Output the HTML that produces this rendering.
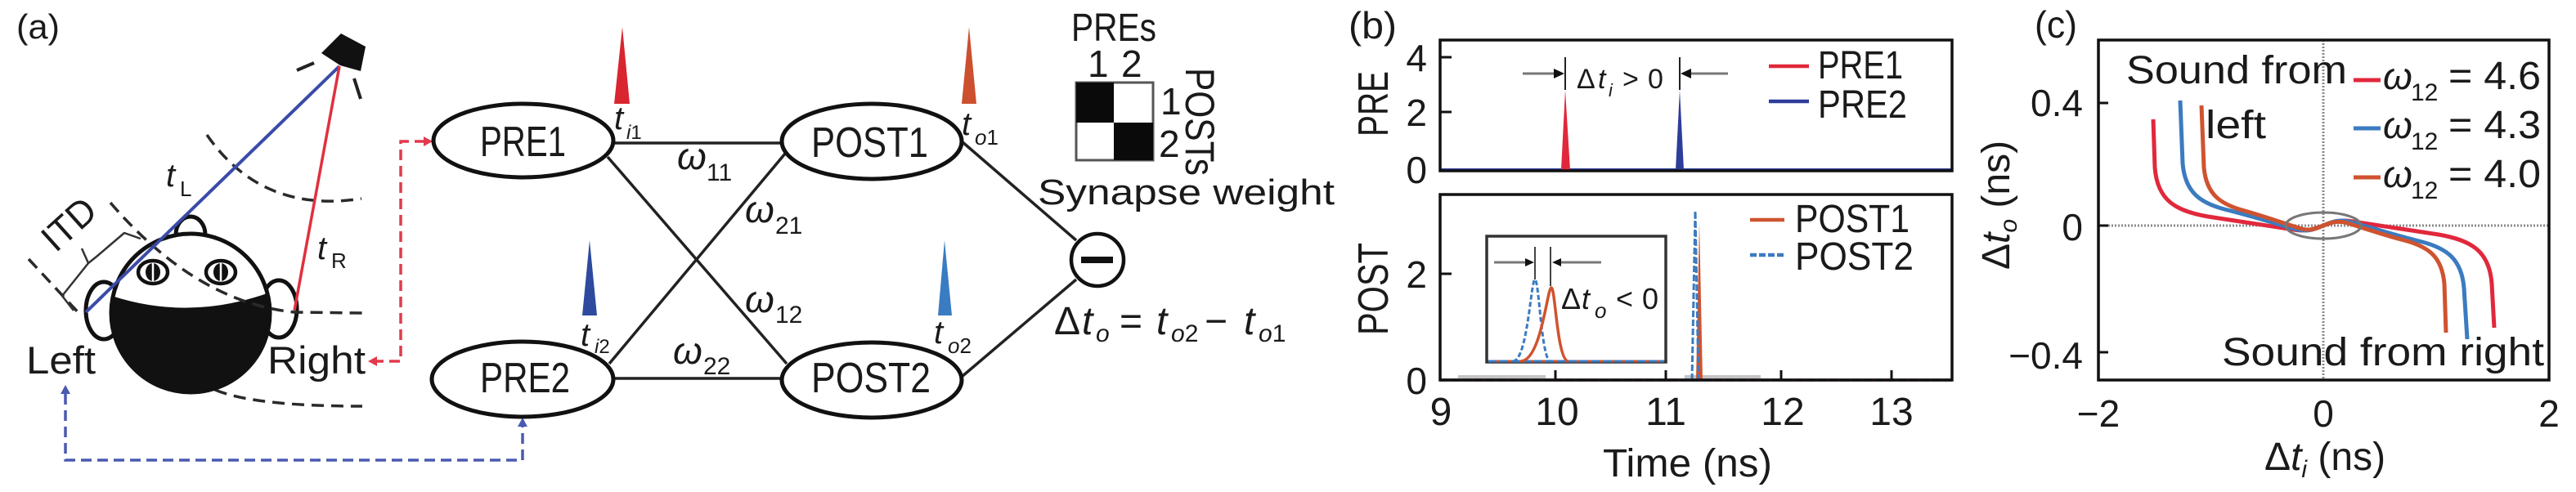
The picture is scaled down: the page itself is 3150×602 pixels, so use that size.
<!DOCTYPE html>
<html><head><meta charset="utf-8">
<style>
html,body{margin:0;padding:0;background:#fff;}
svg{display:block;}
text{font-family:"Liberation Sans",sans-serif;fill:#1a1a1a;}
.i{font-style:italic;}
</style></head><body>
<svg width="3150" height="602" viewBox="0 0 3150 602" xmlns="http://www.w3.org/2000/svg">
<defs>
<clipPath id="hc"><circle cx="233" cy="383" r="96"/></clipPath>
</defs>
<rect width="3150" height="602" fill="#fff"/>

<!-- ============ PANEL (a) ============ -->
<text x="20" y="47" font-size="42" textLength="53" lengthAdjust="spacingAndGlyphs">(a)</text>

<!-- sound wave arcs -->
<g fill="none" stroke="#2a2a2a" stroke-width="3.5" stroke-dasharray="15 9">
  <path d="M253,165 Q320,262 442,243"/>
  <path d="M35,317 L100,387"/>
  <path d="M263,477 Q310,497 443,497"/>
</g>
<!-- speaker -->
<polygon points="417,41 447,57 441,87 416,80 393,65" fill="#111"/>
<line x1="363" y1="86" x2="384" y2="77" stroke="#222" stroke-width="4"/>
<line x1="433" y1="96" x2="441" y2="121" stroke="#222" stroke-width="4"/>

<!-- brace -->
<path d="M90,380 L76,362 L108,322 L100,304 M108,322 L118,314 L152,285 L172,292" fill="none" stroke="#333" stroke-width="2.5" stroke-linejoin="round"/>
<text transform="translate(68,310) rotate(-42)" font-size="46" textLength="72" lengthAdjust="spacingAndGlyphs">ITD</text>

<!-- ears, nose -->
<ellipse cx="127" cy="380" rx="22" ry="35" fill="#fff" stroke="#111" stroke-width="5"/>
<ellipse cx="341" cy="378" rx="22" ry="35" fill="#fff" stroke="#111" stroke-width="5"/>
<path d="M215,287 A18,22 0 0 1 251,287 Z" fill="#fff" stroke="#111" stroke-width="5"/>
<!-- head -->
<circle cx="233" cy="383" r="96" fill="#fff"/>
<path d="M125,358 Q233,398 345,352 L345,490 L125,490 Z" fill="#111" clip-path="url(#hc)"/>
<circle cx="233" cy="383" r="97" fill="none" stroke="#111" stroke-width="5"/>
<!-- eyes -->
<ellipse cx="187" cy="333" rx="18" ry="14" fill="#fff" stroke="#111" stroke-width="4.5"/>
<ellipse cx="187" cy="333" rx="9" ry="11" fill="#111"/>
<line x1="187" y1="322" x2="187" y2="344" stroke="#fff" stroke-width="2.5"/>
<ellipse cx="270" cy="333" rx="18" ry="14" fill="#fff" stroke="#111" stroke-width="4.5"/>
<ellipse cx="270" cy="333" rx="9" ry="11" fill="#111"/>
<line x1="270" y1="322" x2="270" y2="344" stroke="#fff" stroke-width="2.5"/>
<!-- arc 2 over face -->
<path d="M135,248 Q240,370 360,382 L443,383" fill="none" stroke="#2a2a2a" stroke-width="3.5" stroke-dasharray="15 9"/>
<!-- sound paths -->
<line x1="415" y1="81" x2="105" y2="382" stroke="#3a4ba8" stroke-width="4"/>
<line x1="415" y1="81" x2="360" y2="380" stroke="#e0303e" stroke-width="3.5"/>

<text class="i" x="203" y="228" font-size="40">t</text>
<text x="220" y="240" font-size="26">L</text>
<text class="i" x="388" y="317" font-size="40">t</text>
<text x="405" y="328" font-size="26">R</text>

<text x="32" y="457" font-size="47" textLength="85" lengthAdjust="spacingAndGlyphs">Left</text>
<text x="327" y="457" font-size="47" textLength="120" lengthAdjust="spacingAndGlyphs">Right</text>

<!-- dashed connectors -->
<path d="M520,173 L490,173 L490,442 L460,442" fill="none" stroke="#e23a4c" stroke-width="3.5" stroke-dasharray="13 7"/>
<polygon points="529,173 518,167 518,179" fill="#e23a4c"/>
<polygon points="450,442 461,436 461,448" fill="#e23a4c"/>
<path d="M80,482 L80,563 L639,563 L639,522" fill="none" stroke="#4a5ab0" stroke-width="3.5" stroke-dasharray="13 7"/>
<polygon points="80,471 74,482 86,482" fill="#4a5ab0"/>
<polygon points="639,511 633,522 645,522" fill="#4a5ab0"/>

<!-- network lines -->
<g stroke="#222" stroke-width="3.5">
  <line x1="750" y1="175" x2="956" y2="175"/>
  <line x1="750" y1="463" x2="957" y2="463"/>
  <line x1="743" y1="192" x2="962" y2="445"/>
  <line x1="745" y1="445" x2="960" y2="188"/>
  <line x1="1176" y1="173" x2="1316" y2="294"/>
  <line x1="1176" y1="461" x2="1316" y2="342"/>
</g>
<!-- nodes -->
<g fill="#fff" stroke="#111" stroke-width="5">
  <ellipse cx="640" cy="172" rx="110" ry="45"/>
  <ellipse cx="639" cy="464" rx="111" ry="46"/>
  <ellipse cx="1066" cy="173" rx="110" ry="46"/>
  <ellipse cx="1066" cy="465" rx="110" ry="46"/>
</g>
<text x="587" y="191" font-size="52" textLength="105" lengthAdjust="spacingAndGlyphs">PRE1</text>
<text x="587" y="480" font-size="52" textLength="110" lengthAdjust="spacingAndGlyphs">PRE2</text>
<text x="992" y="192" font-size="52" textLength="143" lengthAdjust="spacingAndGlyphs">POST1</text>
<text x="992" y="480" font-size="52" textLength="146" lengthAdjust="spacingAndGlyphs">POST2</text>

<!-- spikes -->
<polygon points="761,33 751,127 770,127" fill="#d9252f"/>
<polygon points="721,294 712,386 730,386" fill="#2e4a9e"/>
<polygon points="1185,33 1176,127 1194,127" fill="#cc4f2e"/>
<polygon points="1155,294 1147,386 1164,386" fill="#3a7cc2"/>

<text class="i" x="751" y="158" font-size="40">t</text>
<text x="766" y="170" font-size="24"><tspan class="i">i</tspan>1</text>
<text class="i" x="710" y="423" font-size="40">t</text>
<text x="727" y="432" font-size="24"><tspan class="i">i</tspan>2</text>
<text class="i" x="1176" y="165" font-size="40">t</text>
<text x="1192" y="177" font-size="26"><tspan class="i">o</tspan>1</text>
<text class="i" x="1142" y="420" font-size="40">t</text>
<text x="1159" y="432" font-size="26"><tspan class="i">o</tspan>2</text>

<!-- weights -->
<text class="i" x="828" y="207" font-size="46">ω</text><text x="864" y="221" font-size="30">11</text>
<text class="i" x="911" y="272" font-size="46">ω</text><text x="948" y="286" font-size="30">21</text>
<text class="i" x="911" y="382" font-size="46">ω</text><text x="948" y="395" font-size="30">12</text>
<text class="i" x="823" y="445" font-size="46">ω</text><text x="860" y="458" font-size="30">22</text>

<!-- minus node -->
<circle cx="1342" cy="318" r="32" fill="#fff" stroke="#111" stroke-width="4.5"/>
<rect x="1322" y="314" width="39" height="8" fill="#111"/>

<!-- formula -->
<text x="1289" y="409" font-size="48">Δ</text>
<text class="i" x="1323" y="409" font-size="48">t</text>
<text class="i" x="1340" y="418" font-size="30">o</text>
<text x="1369" y="409" font-size="48">=</text>
<text class="i" x="1414" y="409" font-size="48">t</text>
<text x="1432" y="418" font-size="30"><tspan class="i">o</tspan>2</text>
<text x="1473" y="409" font-size="48">−</text>
<text class="i" x="1521" y="409" font-size="48">t</text>
<text x="1539" y="418" font-size="30"><tspan class="i">o</tspan>1</text>

<!-- weight matrix -->
<text x="1310" y="50" font-size="48" textLength="104" lengthAdjust="spacingAndGlyphs">PREs</text>
<text x="1330" y="94" font-size="46">1</text>
<text x="1371" y="94" font-size="46">2</text>
<rect x="1316" y="101" width="94" height="95" fill="#fff" stroke="#555" stroke-width="3"/>
<rect x="1316" y="101" width="46" height="49" fill="#0a0a0a"/>
<rect x="1362" y="150" width="48" height="46" fill="#0a0a0a"/>
<text x="1419" y="140" font-size="46">1</text>
<text x="1417" y="192" font-size="46">2</text>
<text transform="translate(1450,83) rotate(90)" font-size="50" textLength="132" lengthAdjust="spacingAndGlyphs">POSTs</text>
<text x="1269" y="250" font-size="44" textLength="363" lengthAdjust="spacingAndGlyphs">Synapse weight</text>

<!-- ============ PANEL (b) ============ -->
<text x="1649" y="47" font-size="46" textLength="59" lengthAdjust="spacingAndGlyphs">(b)</text>

<!-- top plot -->
<text transform="translate(1697,167) rotate(-90)" font-size="52" textLength="80" lengthAdjust="spacingAndGlyphs">PRE</text>
<g font-size="46" text-anchor="end">
  <text x="1745" y="87">4</text>
  <text x="1745" y="154">2</text>
  <text x="1745" y="224">0</text>
</g>
<line x1="1761" y1="208" x2="2387" y2="208" stroke="#2e3d9a" stroke-width="4"/>
<polygon points="1909,208 1914,110 1920,208" fill="#e0283a"/>
<polygon points="2049,208 2054,110 2059,208" fill="#2e3d9a"/>
<line x1="1914" y1="70" x2="1914" y2="110" stroke="#222" stroke-width="2"/>
<line x1="2054" y1="70" x2="2054" y2="110" stroke="#222" stroke-width="2"/>
<line x1="1862" y1="90" x2="1904" y2="90" stroke="#777" stroke-width="3"/>
<polygon points="1913,90 1900,84 1900,96" fill="#111"/>
<line x1="2113" y1="90" x2="2064" y2="90" stroke="#777" stroke-width="3"/>
<polygon points="2055,90 2068,84 2068,96" fill="#111"/>
<text x="1928" y="108" font-size="34">Δ</text>
<text class="i" x="1954" y="108" font-size="34">t</text>
<text class="i" x="1967" y="118" font-size="22">i</text>
<text x="1984" y="108" font-size="34">&gt;</text>
<text x="2015" y="108" font-size="34">0</text>
<line x1="2163" y1="81" x2="2212" y2="81" stroke="#e0283a" stroke-width="4.5"/>
<text x="2223" y="96" font-size="48" textLength="104" lengthAdjust="spacingAndGlyphs">PRE1</text>
<line x1="2163" y1="124" x2="2212" y2="124" stroke="#2e3d9a" stroke-width="4.5"/>
<text x="2223" y="144" font-size="48" textLength="109" lengthAdjust="spacingAndGlyphs">PRE2</text>
<line x1="1761" y1="70" x2="1775" y2="70" stroke="#111" stroke-width="3"/>
<line x1="1761" y1="137" x2="1775" y2="137" stroke="#111" stroke-width="3"/>
<rect x="1761" y="49" width="626" height="160" fill="none" stroke="#111" stroke-width="3.5"/>

<!-- bottom plot -->
<text transform="translate(1697,410) rotate(-90)" font-size="52" textLength="113" lengthAdjust="spacingAndGlyphs">POST</text>
<g font-size="46" text-anchor="end">
  <text x="1745" y="352">2</text>
  <text x="1745" y="482">0</text>
</g>
<line x1="1783" y1="461" x2="1890" y2="461" stroke="#c4c4c4" stroke-width="4"/>
<line x1="2060" y1="461" x2="2153" y2="461" stroke="#c4c4c4" stroke-width="4"/>
<line x1="1761" y1="465" x2="2387" y2="465" stroke="#cf532f" stroke-width="3.5"/>
<line x1="1761" y1="465" x2="2387" y2="465" stroke="#3b7bc0" stroke-width="3.5" stroke-dasharray="10 4"/>
<polygon points="2074,465 2078,272 2082,465" fill="#cf532f"/>
<polyline points="2069,465 2073,258 2077,465" fill="none" stroke="#3b7bc0" stroke-width="3" stroke-dasharray="8 3"/>
<line x1="1902" y1="453" x2="1902" y2="465" stroke="#111" stroke-width="3"/>
<line x1="2037" y1="453" x2="2037" y2="465" stroke="#111" stroke-width="3"/>
<line x1="2178" y1="453" x2="2178" y2="465" stroke="#111" stroke-width="3"/>
<line x1="2313" y1="453" x2="2313" y2="465" stroke="#111" stroke-width="3"/>
<line x1="1761" y1="335" x2="1775" y2="335" stroke="#111" stroke-width="3"/>

<!-- inset -->
<rect x="1818" y="289" width="219" height="154" fill="#fff" stroke="#333" stroke-width="3.5"/>
<line x1="1820" y1="442" x2="2035" y2="442" stroke="#cf532f" stroke-width="3"/>
<line x1="1820" y1="442" x2="2035" y2="442" stroke="#3b7bc0" stroke-width="3" stroke-dasharray="10 4"/>
<path d="M1850,442 C1868,442 1872,342 1877,342 C1882,342 1885,442 1896,442" fill="none" stroke="#3b7bc0" stroke-width="3" stroke-dasharray="6 3"/>
<path d="M1860,442 C1885,440 1892,352 1897,352 C1902,352 1904,442 1918,442" fill="none" stroke="#cf532f" stroke-width="3.5"/>
<line x1="1877" y1="302" x2="1877" y2="342" stroke="#444" stroke-width="2"/>
<line x1="1896" y1="302" x2="1896" y2="350" stroke="#444" stroke-width="2"/>
<line x1="1827" y1="321" x2="1868" y2="321" stroke="#777" stroke-width="3"/>
<polygon points="1876,321 1865,316 1865,326" fill="#111"/>
<line x1="1958" y1="321" x2="1906" y2="321" stroke="#777" stroke-width="3"/>
<polygon points="1898,321 1909,316 1909,326" fill="#111"/>
<text x="1909" y="378" font-size="36">Δ</text>
<text class="i" x="1934" y="378" font-size="36">t</text>
<text class="i" x="1950" y="389" font-size="26">o</text>
<text x="1976" y="378" font-size="36">&lt;</text>
<text x="2008" y="378" font-size="36">0</text>

<line x1="2140" y1="269" x2="2182" y2="269" stroke="#cf532f" stroke-width="4.5"/>
<text x="2195" y="284" font-size="48" textLength="140" lengthAdjust="spacingAndGlyphs">POST1</text>
<line x1="2140" y1="312" x2="2182" y2="312" stroke="#3b7bc0" stroke-width="4.5" stroke-dasharray="8 3"/>
<text x="2195" y="330" font-size="48" textLength="145" lengthAdjust="spacingAndGlyphs">POST2</text>
<rect x="1761" y="238" width="626" height="227" fill="none" stroke="#111" stroke-width="3.5"/>

<g font-size="48" text-anchor="middle">
  <text x="1762" y="520">9</text>
  <text x="1904" y="520">10</text>
  <text x="2037" y="520">11</text>
  <text x="2180" y="520">12</text>
  <text x="2313" y="520">13</text>
</g>
<text x="1960" y="583" font-size="48" textLength="207" lengthAdjust="spacingAndGlyphs">Time (ns)</text>

<!-- ============ PANEL (c) ============ -->
<text x="2488" y="46" font-size="46" textLength="52" lengthAdjust="spacingAndGlyphs">(c)</text>
<line x1="2566" y1="276" x2="3117" y2="276" stroke="#8a8a8a" stroke-width="3" stroke-dasharray="2 2"/>
<line x1="2841" y1="49" x2="2841" y2="465" stroke="#8a8a8a" stroke-width="3" stroke-dasharray="2 2"/>

<g fill="none" stroke-width="5" stroke-linecap="butt">
  <path stroke="#e1283c" d="M2633,146 L2635,205 C2638,245 2660,258 2700,265 C2740,271 2780,277 2805,281 C2820,284 2830,280 2841,276 C2852,272 2862,268 2877,271 C2902,275 2942,281 2982,287 C3022,294 3044,307 3047,347 L3050,401"/>
  <path stroke="#3b7bc0" d="M2666,123 L2669,200 C2672,235 2690,248 2720,256 C2760,266 2790,276 2810,281 C2822,284 2832,280 2841,276 C2850,272 2860,268 2872,271 C2892,276 2922,286 2962,296 C2992,304 3010,317 3013,352 L3017,415"/>
  <path stroke="#cf532f" d="M2692,129 L2695,205 C2698,238 2715,250 2745,258 C2780,268 2800,276 2815,280 C2826,283 2834,279 2841,276 C2848,273 2856,270 2867,272 C2882,276 2902,284 2940,294 C2970,302 2986,314 2989,347 L2991,407"/>
</g>
<ellipse cx="2841" cy="276" rx="46" ry="16" fill="none" stroke="#777" stroke-width="3"/>

<line x1="2566" y1="126" x2="2578" y2="126" stroke="#111" stroke-width="3"/>
<line x1="2566" y1="276" x2="2578" y2="276" stroke="#111" stroke-width="3"/>
<line x1="2566" y1="431" x2="2578" y2="431" stroke="#111" stroke-width="3"/>
<rect x="2566" y="49" width="551" height="416" fill="none" stroke="#111" stroke-width="3.5"/>

<text x="2600" y="102" font-size="48" textLength="270" lengthAdjust="spacingAndGlyphs">Sound from</text>
<text x="2697" y="169" font-size="48" textLength="74" lengthAdjust="spacingAndGlyphs">left</text>
<text x="2717" y="447" font-size="48" textLength="394" lengthAdjust="spacingAndGlyphs">Sound from right</text>

<!-- legend (c) -->
<line x1="2878" y1="98" x2="2911" y2="98" stroke="#e1283c" stroke-width="5"/>
<text class="i" x="2914" y="109" font-size="46">ω</text>
<text x="2948" y="123" font-size="30">12</text>
<text x="2994" y="109" font-size="48" textLength="113" lengthAdjust="spacingAndGlyphs">= 4.6</text>
<line x1="2878" y1="157" x2="2911" y2="157" stroke="#3b7bc0" stroke-width="5"/>
<text class="i" x="2914" y="169" font-size="46">ω</text>
<text x="2948" y="183" font-size="30">12</text>
<text x="2994" y="169" font-size="48" textLength="113" lengthAdjust="spacingAndGlyphs">= 4.3</text>
<line x1="2878" y1="217" x2="2911" y2="217" stroke="#cf532f" stroke-width="5"/>
<text class="i" x="2914" y="229" font-size="46">ω</text>
<text x="2948" y="243" font-size="30">12</text>
<text x="2994" y="229" font-size="48" textLength="113" lengthAdjust="spacingAndGlyphs">= 4.0</text>

<!-- axes labels (c) -->
<g font-size="46" text-anchor="end">
  <text x="2547" y="142">0.4</text>
  <text x="2547" y="294">0</text>
  <text x="2547" y="451">−0.4</text>
</g>
<g font-size="46" text-anchor="middle">
  <text x="2566" y="522">−2</text>
  <text x="2841" y="522">0</text>
  <text x="3117" y="522">2</text>
</g>
<text x="2769" y="575" font-size="48">Δ<tspan class="i">t</tspan><tspan class="i" font-size="30" dy="9">i</tspan><tspan dy="-9"> (ns)</tspan></text>
<text transform="translate(2457,330) rotate(-90)" font-size="48">Δ<tspan class="i">t</tspan><tspan class="i" font-size="30" dy="9">o</tspan><tspan dy="-9"> (ns)</tspan></text>
</svg>
</body></html>
